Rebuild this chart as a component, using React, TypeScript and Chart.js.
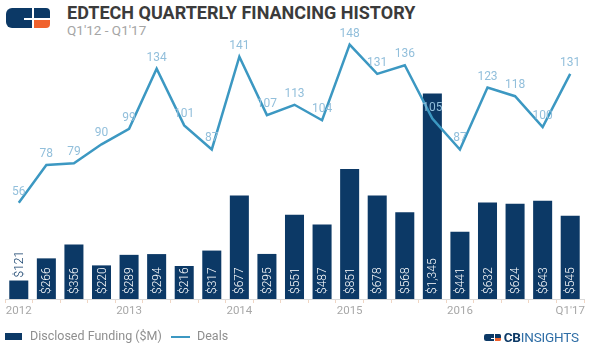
import React, { useEffect, useRef } from "react";
import { Chart, registerables } from "chart.js";

Chart.register(...registerables);

const quarters = [
  "Q1'12", "Q2'12", "Q3'12", "Q4'12",
  "Q1'13", "Q2'13", "Q3'13", "Q4'13",
  "Q1'14", "Q2'14", "Q3'14", "Q4'14",
  "Q1'15", "Q2'15", "Q3'15", "Q4'15",
  "Q1'16", "Q2'16", "Q3'16", "Q4'16",
  "Q1'17",
];
const tickLabels = [
  "2012", "", "", "",
  "2013", "", "", "",
  "2014", "", "", "",
  "2015", "", "", "",
  "2016", "", "", "",
  "Q1'17",
];
const funding = [121, 266, 356, 220, 289, 294, 216, 317, 677, 295, 551, 487, 851, 678, 568, 1345, 441, 632, 624, 643, 545];
const deals = [56, 78, 79, 90, 99, 134, 101, 87, 141, 107, 113, 104, 148, 131, 136, 105, 87, 123, 118, 100, 131];

const NAVY = "#0c3966";
const LINE = "#3c98c2";
const LINE_LABEL = "#92bfdb";
const FONT = "Roboto, 'Noto Sans', sans-serif";

const labelPlugin = {
  id: "valueLabels",
  afterDatasetsDraw(chart: any) {
    const ctx = chart.ctx;
    const barMeta = chart.getDatasetMeta(1);
    const lineMeta = chart.getDatasetMeta(0);
    ctx.save();
    // bar labels
    ctx.font = `300 12px ${FONT}`;
    barMeta.data.forEach((bar: any, i: number) => {
      const text = "$" + funding[i].toLocaleString("en-US");
      const w = ctx.measureText(text).width;
      const h = bar.base - bar.y;
      ctx.save();
      if (w + 4 <= h) {
        ctx.translate(bar.x, bar.base - 5);
        ctx.fillStyle = "#ffffff";
      } else {
        ctx.translate(bar.x, bar.y - 3);
        ctx.fillStyle = NAVY;
      }
      ctx.rotate(-Math.PI / 2);
      ctx.textAlign = "left";
      ctx.textBaseline = "middle";
      ctx.fillText(text, 0, 1);
      ctx.restore();
    });
    // line labels
    ctx.font = `400 12px ${FONT}`;
    ctx.fillStyle = LINE_LABEL;
    ctx.textAlign = "center";
    ctx.textBaseline = "middle";
    lineMeta.data.forEach((pt: any, i: number) => {
      ctx.fillText(String(deals[i]), pt.x, pt.y - 11);
    });
    ctx.restore();
  },
};

function Logo({ scale = 1 }: { scale?: number }) {
  const s = (v: number) => v * scale;
  return (
    <div style={{ position: "relative", width: s(44), height: s(20) }}>
      <div style={{ position: "absolute", left: 0, top: 0, width: s(26), height: s(20), background: NAVY, borderRadius: `${s(6)}px 0 0 ${s(6)}px` }} />
      <div style={{ position: "absolute", left: s(18), top: s(10), width: s(8), height: s(2), background: "#fff" }} />
      <div style={{ position: "absolute", left: s(28), top: 0, width: s(16), height: s(10), background: NAVY, borderRadius: `0 ${s(4)}px 0 0` }} />
      <div style={{ position: "absolute", left: s(28), top: s(12), width: s(16), height: s(8), background: "#f0622d", borderRadius: `0 0 ${s(4)}px 0` }} />
    </div>
  );
}

export default function App() {
  const ref = useRef<HTMLCanvasElement>(null);
  useEffect(() => {
    if (!ref.current) return;
    const chart = new Chart(ref.current, {
      type: "bar",
      data: {
        labels: quarters,
        datasets: [
          {
            type: "line",
            label: "Deals",
            data: deals,
            yAxisID: "y1",
            borderColor: LINE,
            borderWidth: 2.5,
            pointRadius: 0,
            tension: 0,
            fill: false,
          } as any,
          {
            type: "bar",
            label: "Disclosed Funding ($M)",
            data: funding,
            yAxisID: "y",
            backgroundColor: NAVY,
            barPercentage: 0.69,
            categoryPercentage: 1,
          },
        ],
      },
      options: {
        responsive: true,
        maintainAspectRatio: false,
        animation: false,
        layout: { padding: { left: 5, right: 14, top: 24, bottom: 30 } },
        plugins: { legend: { display: false }, tooltip: { enabled: false } },
        scales: {
          x: {
            offset: true,
            grid: { display: true, drawOnChartArea: false, drawTicks: true, tickLength: 4, color: "#f0d6c4" },
            border: { display: true, color: "#d9d9d9", width: 1 },
            ticks: {
              autoSkip: false,
              maxRotation: 0,
              padding: 1,
              color: "#a8a8a8",
              font: { family: FONT, size: 11.5 },
              callback: (_v: any, i: number) => tickLabels[i],
            },
            afterFit: (scale: any) => { scale.height = 22; },
          },
          y: { display: false, min: 0, max: 1800 },
          y1: { display: false, min: 0, max: 160, position: "right" },
        },
      },
      plugins: [labelPlugin],
    });
    return () => chart.destroy();
  }, []);

  return (
    <div style={{ position: "fixed", left: 0, top: 0, width: 598, height: 351, background: "#fff", fontFamily: FONT, overflow: "hidden" }}>
      <div style={{ position: "absolute", left: 6, top: 8 }}>
        <Logo />
      </div>
      <div style={{ position: "absolute", left: 67, top: 2, fontSize: 18, fontWeight: 700, color: "#3b3b3b", whiteSpace: "nowrap" }}>
        EDTECH QUARTERLY FINANCING HISTORY
      </div>
      <div style={{ position: "absolute", left: 67, top: 22, fontSize: 13.5, color: "#a5a5a5", whiteSpace: "nowrap" }}>
        Q1'12 - Q1'17
      </div>
      <div style={{ position: "absolute", left: 0, top: 0, width: 598, height: 351 }}>
        <canvas ref={ref} />
      </div>
      <div style={{ position: "absolute", left: 5, top: 333, width: 17, height: 7, background: NAVY }} />
      <div style={{ position: "absolute", left: 30, top: 328, fontSize: 12.5, color: "#8f8f8f", whiteSpace: "nowrap" }}>
        Disclosed Funding ($M)
      </div>
      <div style={{ position: "absolute", left: 171, top: 336, width: 19, height: 2, background: LINE }} />
      <div style={{ position: "absolute", left: 197, top: 328, fontSize: 12.5, color: "#8f8f8f", whiteSpace: "nowrap" }}>
        Deals
      </div>
      <div style={{ position: "absolute", left: 484, top: 331, display: "flex", alignItems: "center" }}>
        <Logo scale={0.38} />
        <div style={{ marginLeft: 3, fontSize: 13.5, lineHeight: "13px", whiteSpace: "nowrap", letterSpacing: -0.2 }}>
          <span style={{ fontWeight: 700, color: NAVY }}>CB</span>
          <span style={{ fontWeight: 400, color: "#2f6ea6" }}>INSIGHTS</span>
        </div>
      </div>
    </div>
  );
}
